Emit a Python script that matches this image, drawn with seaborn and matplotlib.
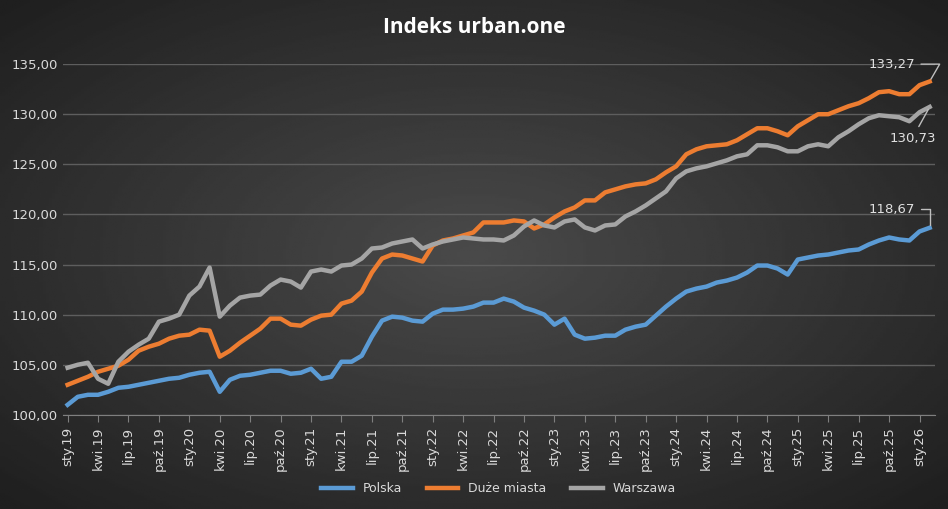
import numpy as np
import pandas as pd
import matplotlib
matplotlib.use("Agg")
import matplotlib.pyplot as plt
import seaborn as sns

# monthly values, Jan 2019 .. Feb 2026
polska = [101.0, 101.8, 102.0, 102.0, 102.3, 102.7, 102.8, 103.0, 103.2, 103.4, 103.6, 103.7,
          104.0, 104.2, 104.3, 102.3, 103.5, 103.9, 104.0, 104.2, 104.4, 104.4, 104.1, 104.2,
          104.6, 103.6, 103.8, 105.3, 105.3, 105.9, 107.8, 109.4, 109.8, 109.7, 109.4, 109.3,
          110.1, 110.5, 110.5, 110.6, 110.8, 111.2, 111.2, 111.6, 111.3, 110.7, 110.4, 110.0,
          109.0, 109.6, 108.0, 107.6, 107.7, 107.9, 107.9, 108.5, 108.8, 109.0, 109.9, 110.8,
          111.6, 112.3, 112.6, 112.8, 113.2, 113.4, 113.7, 114.2, 114.9, 114.9, 114.6, 114.0,
          115.5, 115.7, 115.9, 116.0, 116.2, 116.4, 116.5, 117.0, 117.4, 117.7, 117.5, 117.4,
          118.3, 118.67]
duze_miasta = [103.0, 103.4, 103.8, 104.3, 104.6, 104.9, 105.5, 106.4, 106.8, 107.1, 107.6, 107.9,
               108.0, 108.5, 108.4, 105.8, 106.4, 107.2, 107.9, 108.6, 109.6, 109.6, 109.0, 108.9,
               109.5, 109.9, 110.0, 111.1, 111.4, 112.3, 114.2, 115.6, 116.0, 115.9, 115.6, 115.3,
               116.9, 117.4, 117.6, 117.9, 118.2, 119.2, 119.2, 119.2, 119.4, 119.3, 118.6, 119.0,
               119.7, 120.3, 120.7, 121.4, 121.4, 122.2, 122.5, 122.8, 123.0, 123.1, 123.5, 124.2,
               124.8, 126.0, 126.5, 126.8, 126.9, 127.0, 127.4, 128.0, 128.6, 128.6, 128.3, 127.9,
               128.8, 129.4, 130.0, 130.0, 130.4, 130.8, 131.1, 131.6, 132.2, 132.3, 132.0, 132.0,
               132.9, 133.27]
warszawa = [104.7, 105.0, 105.2, 103.6, 103.1, 105.3, 106.3, 107.0, 107.6, 109.3, 109.6, 110.0,
            111.9, 112.8, 114.7, 109.8, 110.9, 111.7, 111.9, 112.0, 112.9, 113.5, 113.3, 112.7,
            114.3, 114.5, 114.3, 114.9, 115.0, 115.6, 116.6, 116.7, 117.1, 117.3, 117.5, 116.6,
            117.0, 117.3, 117.5, 117.7, 117.6, 117.5, 117.5, 117.4, 117.9, 118.8, 119.4, 118.9,
            118.7, 119.3, 119.5, 118.7, 118.4, 118.9, 119.0, 119.8, 120.3, 120.9, 121.6, 122.3,
            123.6, 124.3, 124.6, 124.8, 125.1, 125.4, 125.8, 126.0, 126.9, 126.9, 126.7, 126.3,
            126.3, 126.8, 127.0, 126.8, 127.7, 128.3, 129.0, 129.6, 129.9, 129.8, 129.7, 129.3,
            130.2, 130.73]
month_names = ["sty", "kwi", "lip", "paź"]
years = list(range(19, 27))

n = len(polska)
df = pd.DataFrame({
    "m": list(range(n)) * 3,
    "v": polska + duze_miasta + warszawa,
    "seria": ["Polska"] * n + ["Duże miasta"] * n + ["Warszawa"] * n,
})
colors = {"Polska": "#5b9bd5", "Duże miasta": "#ed7d31", "Warszawa": "#a5a5a5"}

fig = plt.figure(figsize=(9.48, 5.09), dpi=100)
# radial dark background
bg = fig.add_axes([0, 0, 1, 1], zorder=-10)
yy, xx = np.mgrid[-1:1:300j, -1:1:300j]
r = np.sqrt(xx**2 + yy**2)
bg.imshow(0.29 - 0.12 * np.clip(r, 0, 1.4), cmap="gray", vmin=0, vmax=1, aspect="auto",
          extent=[0, 1, 0, 1])
bg.axis("off")

ax = fig.add_axes([0.066, 0.185, 0.92, 0.689])
ax.patch.set_alpha(0)
sns.lineplot(data=df, x="m", y="v", hue="seria", palette=colors, linewidth=3.2, ax=ax)

ax.set_ylim(100, 135)
ax.set_xlim(-0.5, n - 0.5)
ax.set_yticks(np.arange(100, 136, 5))
ax.set_yticklabels([f"{v:.2f}".replace(".", ",") for v in np.arange(100, 136, 5)],
                   color="#d9d9d9", fontsize=9.5)
ticks = list(range(0, n, 3))
ax.set_xticks(ticks)
ax.set_xticklabels([f"{month_names[(t % 12) // 3]}.{years[t // 12]}" for t in ticks],
                   rotation=90, color="#d9d9d9", fontsize=9.5)
ax.grid(axis="y", color="#5e5e5e", linewidth=1)
ax.set_axisbelow(True)
ax.tick_params(length=0, axis="y")
ax.tick_params(axis="x", length=5, color="#7f7f7f")
for s in ["top", "right", "left"]:
    ax.spines[s].set_visible(False)
ax.spines["bottom"].set_color("#7f7f7f")
ax.set_xlabel("")
ax.set_ylabel("")

# end labels
last = n - 1
ax.annotate("133,27", xy=(last, duze_miasta[-1]), xytext=(last - 6, 135.0),
            color="#e0e0e0", fontsize=9.5, va="center",
            arrowprops=dict(arrowstyle="-", color="#bfbfbf", connectionstyle="angle,angleA=0,angleB=60"))
ax.annotate("130,73", xy=(last, warszawa[-1]), xytext=(last - 4, 127.6),
            color="#e0e0e0", fontsize=9.5, va="center",
            arrowprops=dict(arrowstyle="-", color="#bfbfbf"))
ax.annotate("118,67", xy=(last, polska[-1]), xytext=(last - 6, 120.5),
            color="#e0e0e0", fontsize=9.5, va="center",
            arrowprops=dict(arrowstyle="-", color="#bfbfbf", connectionstyle="angle,angleA=0,angleB=90"))

leg = ax.legend(loc="center", bbox_to_anchor=(0.5, -0.21), ncol=3, frameon=False,
                fontsize=9, handlelength=2.5)
for t in leg.get_texts():
    t.set_color("#d9d9d9")

fig.text(0.5, 0.945, "Indeks urban.one", ha="center", va="center", color="white",
         fontsize=15, fontweight="bold", family="Open Sans")
fig.savefig("out.png", dpi=100)
